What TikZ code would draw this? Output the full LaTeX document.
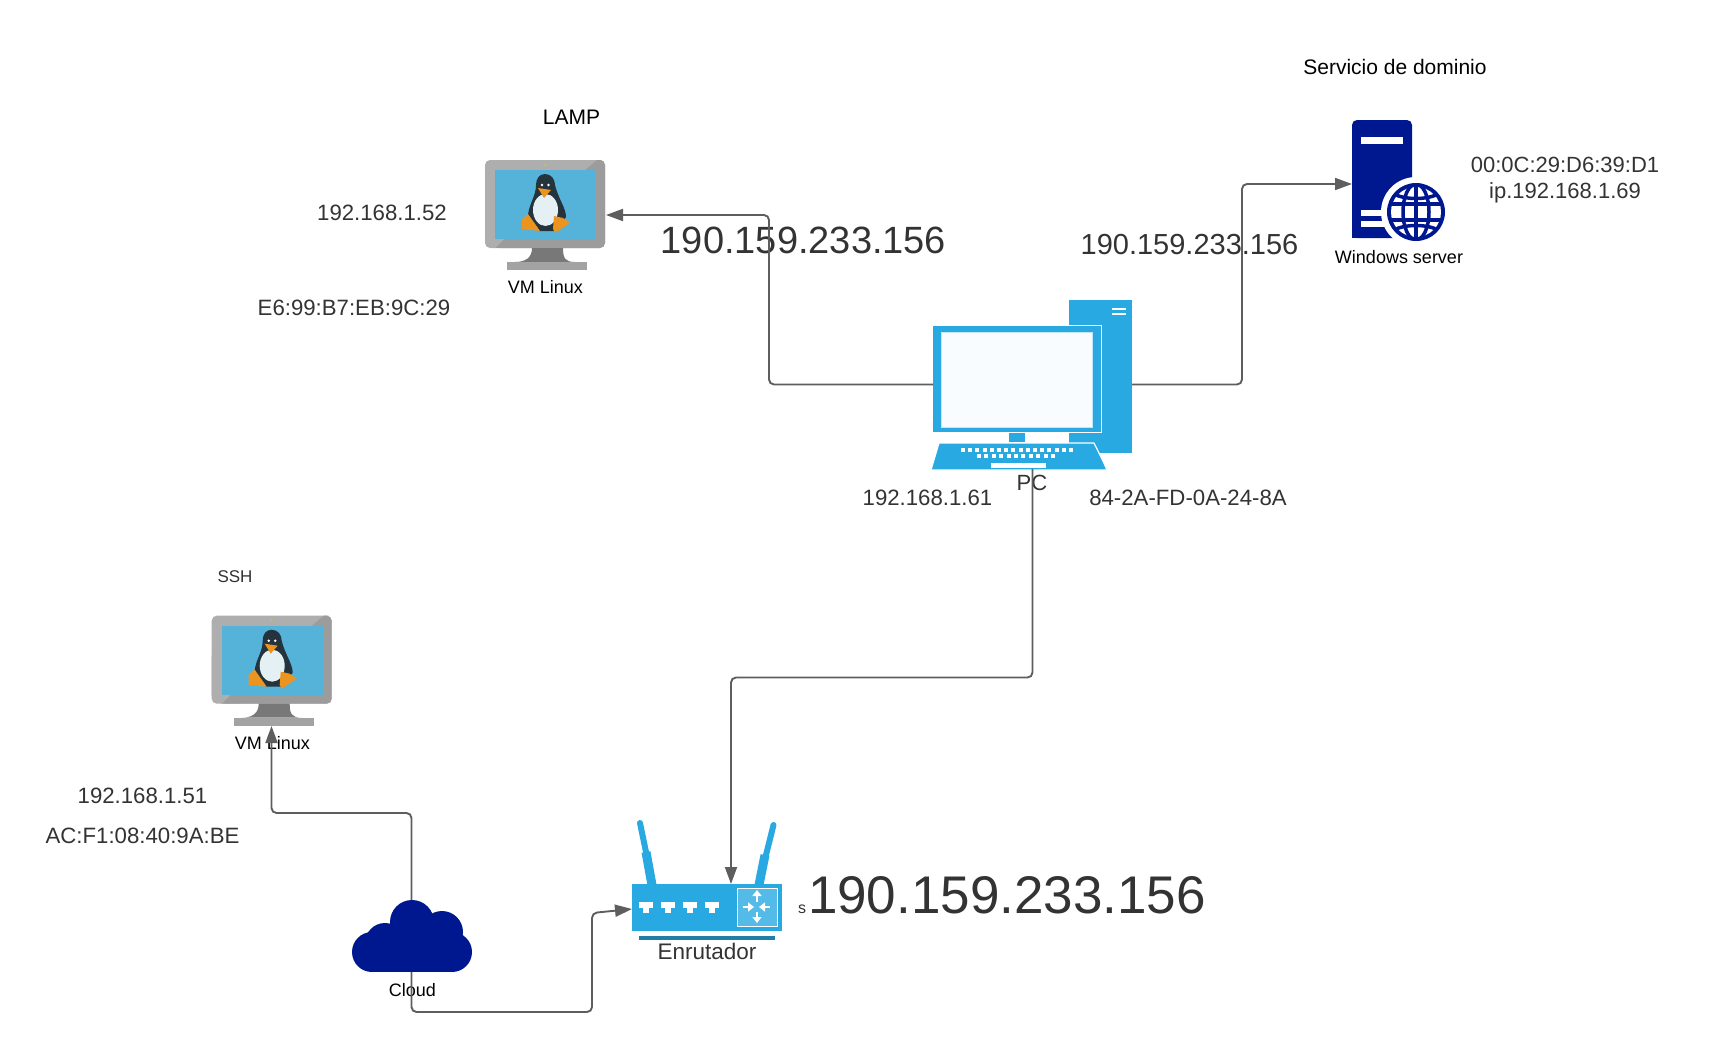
\documentclass[tikz,border=0pt]{standalone}
\usepackage{fontspec}
\setmainfont{Liberation Sans}
\usetikzlibrary{arrows.meta}
\definecolor{pcblue}{HTML}{29A9E1}
\definecolor{pcscreen}{HTML}{F8FCFE}
\definecolor{navy}{HTML}{00188F}
\definecolor{linkgray}{HTML}{5E5E5E}
\definecolor{textgray}{HTML}{333333}
\definecolor{vmscreenblue}{HTML}{55B3DA}
\definecolor{tuxdark}{HTML}{25333D}
\definecolor{tuxbelly}{HTML}{E4F0F4}
\definecolor{tuxorange}{HTML}{EC9420}
\definecolor{bezellight}{HTML}{AEAEAE}
\definecolor{bezeldark}{HTML}{9C9C9C}
\tikzset{
    iconbox/.style={inner sep=0pt, outer sep=0pt},
    link/.style={draw=linkgray, line width=1.9pt, rounded corners=5pt, -{Triangle[length=17pt,width=12pt]}},
    txt/.style={text=textgray, inner sep=0pt},
    blk/.style={text=black, inner sep=0pt},
    vmscreen/.pic={
        \fill[rounded corners=5pt, fill=bezellight] (0,0) rectangle (120,88);
        \fill[bezeldark, rounded corners=5pt] (112,0) -- (120,0) -- (120,88) -- (10,88) -- cycle;
        \fill[bezeldark] (112,0) -- (115,0) -- (115,84) -- (10,88) -- (19,79) -- (111,79) -- (111,10) -- (101,10) -- cycle;
        \fill[bezellight] (0,40) -- (19,79) -- (10,88) -- (0,80) -- cycle;
        \fill[fill=black!53] (47,88) .. controls (47,98) and (40,102) .. (30,102) -- (90,102) .. controls (80,102) and (78,98) .. (78,88) -- cycle;
        \fill[black!36] (22,102) rectangle (102,110);
        \fill[vmscreenblue] (10,10) rectangle (111,79);
        \fill[yellow!70!green] (60,5) circle [radius=1];
        \fill[tuxdark] (60,14) .. controls (54,14) and (51,19) .. (51,25) .. controls (51,36) and (44,44) .. (43,55) -- (52,67) -- (54,71) -- (70,71) -- (81,57) .. controls (81,48) and (73,38) .. (70,25) .. controls (70,19) and (66,14) .. (60,14) -- cycle;
        \fill[tuxbelly] (60.5,50) ellipse [x radius=12.5, y radius=16];
        \fill[white] (57,25) circle [radius=1.4] (63.5,25) circle [radius=1.4];
        \fill[tuxorange] (53,28) -- (66,30) -- (59,38) -- cycle;
        \fill[tuxorange] (37,59) -- (43,54) -- (55,71) -- (37,69) -- cycle;
        \fill[tuxorange] (69,56) -- (78,58) -- (85,63) -- (70,73) -- (68,69) -- cycle;
    }
}
\begin{document}
\begin{tikzpicture}[x=1pt,y=-1pt]
\useasboundingbox (0,0) rectangle (1725,1052);
\node (vmlamp) [iconbox, minimum width=121pt, minimum height=110pt] at (545.5,215) {};
\node (vmssh) [iconbox, minimum width=121pt, minimum height=110pt] at (271.5,671) {};
\node (pc) [iconbox, minimum width=199pt, minimum height=169pt] at (1032.5,384.5) {};
\node (server) [iconbox, minimum width=93pt, minimum height=128pt] at (1398.5,184) {};
\node (router) [iconbox, minimum width=150pt, minimum height=50pt] at (707,909) {};
\node (cloud) [iconbox, minimum width=120pt, minimum height=72pt] at (411.5,936) {};
\coordinate (lampa) at (769,384.5);
\coordinate (lampb) at (769,215);
\coordinate (serva) at (1242,384.5);
\coordinate (servb) at (1242,184);
\coordinate (routa) at (1032.5,677.5);
\coordinate (routb) at (731,677.5);
\coordinate (routc) at (731,884);
\coordinate (ssha) at (411.5,813);
\coordinate (sshb) at (271.5,813);
\coordinate (cloa) at (411.5,1012);
\coordinate (clob) at (592,1012);
\coordinate (cloc) at (592,913);
\pic at (485,160) {vmscreen};
\pic at (211.7,615.7) {vmscreen};
% servidor
\fill[navy, rounded corners=5pt] (1352,238) -- (1352,120) -- (1412,120) -- (1412,238) -- cycle;
\fill[navy] (1352,230) rectangle (1412,238);
\fill[white] (1361,137) rectangle (1403,144);
\fill[white] (1361,210) rectangle (1390,216);
\fill[white] (1361,221) rectangle (1390,227);
\fill[white] (1416,212) circle [radius=35];
\fill[navy] (1416,212) circle [radius=29];
\fill[white] (1416,212) circle [radius=25];
\begin{scope}
\clip (1416,212) circle [radius=26];
\draw[navy, line width=3.5pt] (1416,212) ellipse [x radius=13, y radius=28];
\draw[navy, line width=3.5pt] (1416,184) -- (1416,240);
\draw[navy, line width=3.5pt] (1388,204) -- (1444,204);
\draw[navy, line width=3.5pt] (1388,220) -- (1444,220);
\draw[navy, line width=3.5pt] (1394,194) .. controls (1405,200) and (1427,200) .. (1438,194);
\draw[navy, line width=3.5pt] (1394,230) .. controls (1405,224) and (1427,224) .. (1438,230);
\end{scope}
% pc
\fill[pcblue] (1069,300) rectangle (1132,453);
\fill[white] (1112,308) rectangle (1126,310);
\fill[white] (1112,313) rectangle (1126,315);
\fill[pcblue, draw=white, line width=1pt] (932.5,325.5) rectangle (1101,432);
\fill[pcscreen, draw=white!70!pcblue, line width=.8pt] (941,332) rectangle (1092,427);
\fill[pcblue] (1009,433) rectangle (1025,442);
\fill[pcblue, draw=white, line width=1.2pt] (939,443) -- (1094,443) -- (1103,461) -- (1107,470) -- (931,470) -- cycle;
\foreach \k in {0,...,15} {
    \fill[white] (961+\k*7.2,448) rectangle ++(4,3.5);
}
\foreach \k in {0,...,10} {
    \fill[white] (977+\k*7.4,454) rectangle ++(4,3.5);
}
\fill[white] (991,463) rectangle (1046,468);
% enrutador
\draw[pcblue, line width=6pt, line cap=round] (640,823) -- (646,852);
\draw[pcblue, line width=9pt] (646,852) -- (652,885);
\draw[pcblue, line width=6pt, line cap=round] (773.5,825) -- (766,855);
\draw[pcblue, line width=9pt] (765,855) -- (759,885);
\fill[pcblue] (632,884) rectangle (782,931);
\fill[black!25!pcblue] (639,936) rectangle (775,940);
\foreach \p in {639,661,683,705} {
    \fill[white] (\p,902) rectangle ++(14,6);
    \fill[white] (\p+4,907) rectangle ++(6,6);
}
\fill[fill=white!20!pcblue, draw=white, line width=1pt] (737,888) rectangle (777,926);
\foreach \ax/\ay/\bx/\by in {757/902/757/890, 757/912/757/923, 743/907/754/907, 770/907/759/907} {
    \draw[white, line width=2.5pt, -{Triangle[length=6pt,width=9pt]}] (\ax,\ay) -- (\bx,\by);
}
% nube
\fill[navy] (372,952) circle [radius=20];
\fill[navy] (385,943) circle [radius=20];
\fill[navy] (412,922) circle [radius=22];
\fill[navy] (442,932) circle [radius=21];
\fill[navy] (452,952) circle [radius=20];
\fill[navy] (395,925) rectangle (452,972);
\fill[navy] (372,950) rectangle (395,972);
% textos
\node (lamplabel) [blk, font=\fontsize{21}{25}\selectfont] at (571.5,117) {LAMP};
\node (vmlamplabel) [blk, font=\fontsize{18}{22}\selectfont] at (545.3,287.5) {VM Linux};
\node (lampip) [txt, font=\fontsize{22.2}{26}\selectfont] at (382,213) {192.168.1.52};
\node (lampmac) [txt, font=\fontsize{22.2}{26}\selectfont] at (354,307.5) {E6:99:B7:EB:9C:29};
\node (lampwan) [txt, font=\fontsize{38}{44}\selectfont] at (803.5,240) {190.159.233.156};
\node (lampdot) [txt, font=\fontsize{6}{7}\selectfont] at (663,252) {.};
\node (servlabel) [blk, font=\fontsize{21}{25}\selectfont] at (1395,67) {Servicio de dominio};
\node (servmac) [txt, font=\fontsize{22}{26}\selectfont] at (1565,164.5) {00:0C:29:D6:39:D1};
\node (servip) [txt, font=\fontsize{22}{26}\selectfont] at (1565,192.5) {ip.192.168.1.69};
\node (servname) [blk, font=\fontsize{18}{22}\selectfont] at (1399,257.5) {Windows server};
\node (servwan) [txt, font=\fontsize{29}{34}\selectfont] at (1189.5,245) {190.159.233.156};
\node (pclabel) [txt, font=\fontsize{22}{26}\selectfont] at (1032,482.5) {PC};
\node (pcip) [txt, font=\fontsize{22.2}{26}\selectfont] at (927.5,498) {192.168.1.61};
\node (pcmac) [txt, font=\fontsize{22.2}{26}\selectfont] at (1188,498) {84-2A-FD-0A-24-8A};
\node (sshlabel) [txt, font=\fontsize{17}{20}\selectfont] at (235,577) {SSH};
\node (vmsshlabel) [blk, font=\fontsize{18}{22}\selectfont] at (272.5,743) {VM Linux};
\node (sship) [txt, font=\fontsize{22.2}{26}\selectfont] at (142.5,795.5) {192.168.1.51};
\node (sshmac) [txt, font=\fontsize{22.2}{26}\selectfont] at (142.5,835.5) {AC:F1:08:40:9A:BE};
\node (cloudlabel) [blk, font=\fontsize{18}{22}\selectfont] at (412.5,990) {Cloud};
\node (routlabel) [txt, font=\fontsize{22.5}{27}\selectfont] at (707,951.6) {Enrutador};
\node (routwan) [txt, font=\fontsize{53}{60}\selectfont] at (1007,895.6) {190.159.233.156};
\node (routs) [txt, font=\fontsize{16}{18}\selectfont] at (802,909) {s};
% enlaces
\draw[link] (pc.west) -- (lampa) -- (lampb) -- (vmlamp.east);
\draw[link] (pc.east) -- (serva) -- (servb) -- (server.west);
\draw[link] (pc.south) -- (routa) -- (routb) -- (routc);
\draw[link] (cloud.north) -- (ssha) -- (sshb) -- (vmssh.south);
\draw[link] (cloud.south) -- (cloa) -- (clob) -- (cloc) -- (router.west);
\end{tikzpicture}
\end{document}
